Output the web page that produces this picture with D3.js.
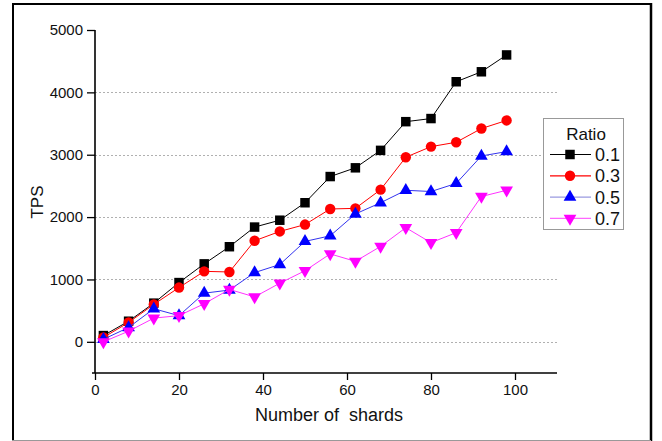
<!DOCTYPE html>
<html>
<head>
<meta charset="utf-8">
<script src="https://cdn.jsdelivr.net/npm/d3@7"></script>
<style>
  body { margin: 0; background: #fff; }
  svg { display: block; font-family: "Liberation Sans", Arial, sans-serif; }
</style>
</head>
<body>
<svg id="chart" width="662" height="441"></svg>
<script>
// shard counts on the x axis
var shards = [2, 8, 14, 20, 26, 32, 38, 44, 50, 56, 62, 68, 74, 80, 86, 92, 98];

// TPS per ratio
var tps_01 = [100, 330, 620, 950, 1250, 1525, 1840, 1950, 2230, 2650, 2790, 3070, 3530, 3580, 4170, 4330, 4600];
var tps_03 = [70, 310, 600, 870, 1130, 1120, 1620, 1770, 1880, 2130, 2140, 2440, 2960, 3130, 3200, 3420, 3550];
var tps_05 = [40, 230, 530, 420, 780, 830, 1110, 1240, 1610, 1700, 2050, 2230, 2430, 2410, 2540, 2980, 3050];
var tps_07 = [0, 170, 380, 420, 610, 840, 720, 940, 1140, 1410, 1290, 1530, 1830, 1590, 1750, 2330, 2430];

var ratios = ["0.1", "0.3", "0.5", "0.7"];
var yTicks = [0, 1000, 2000, 3000, 4000, 5000];
var xTicks = [0, 20, 40, 60, 80, 100];

var series = [
  {name: ratios[0], values: tps_01, color: "#000000", line: "#000000", shape: "square"},
  {name: ratios[1], values: tps_03, color: "#ff0000", line: "#ff0000", shape: "circle"},
  {name: ratios[2], values: tps_05, color: "#0000ff", line: "#3333ee", shape: "up"},
  {name: ratios[3], values: tps_07, color: "#ff00ff", line: "#ff33ff", shape: "down"}
];

var svg = d3.select("#chart");

// outer frame
svg.append("line").attr("x1", 12).attr("y1", 4).attr("x2", 652).attr("y2", 4)
  .attr("stroke", "#000").attr("stroke-width", 2);
svg.append("line").attr("x1", 13).attr("y1", 3).attr("x2", 13).attr("y2", 441)
  .attr("stroke", "#000").attr("stroke-width", 2);
svg.append("line").attr("x1", 651).attr("y1", 3).attr("x2", 651).attr("y2", 441)
  .attr("stroke", "#000").attr("stroke-width", 2.5);
svg.append("line").attr("x1", 12).attr("y1", 440.5).attr("x2", 651).attr("y2", 440.5)
  .attr("stroke", "#999").attr("stroke-width", 1);

var x = d3.scaleLinear().domain([0, 110]).range([95, 557]);
var y = d3.scaleLinear().domain([-500, 5000]).range([373, 30]);

// grid
svg.append("g").selectAll("line")
  .data(yTicks.filter(function(d) { return d < 5000; }))
  .enter().append("line")
  .attr("x1", x(0)).attr("x2", x(110))
  .attr("y1", function(d) { return Math.round(y(d)) + 0.5; })
  .attr("y2", function(d) { return Math.round(y(d)) + 0.5; })
  .attr("stroke", "#b0b0b0").attr("stroke-width", 1)
  .attr("stroke-dasharray", "2,2");

// axes: minor ticks first, then major with labels
var xg = svg.append("g").attr("transform", "translate(0," + y(-500) + ")");
xg.call(d3.axisBottom(x).tickValues(d3.range(0, 111, 10)).tickSize(4).tickFormat(""));
xg.call(d3.axisBottom(x).tickValues(xTicks).tickSize(7).tickFormat(d3.format("d")).tickPadding(4));
xg.selectAll(".domain").attr("d", "M" + (x(0) - 3) + ",0H" + x(110)).attr("stroke-width", 1.6);
xg.selectAll("line").attr("stroke-width", 1.3);
xg.selectAll("text").attr("font-size", 15).attr("fill", "#111").attr("font-family", "Liberation Sans, Arial");

var yg = svg.append("g").attr("transform", "translate(" + x(0) + ",0)");
yg.call(d3.axisLeft(y).tickValues(d3.range(-500, 5001, 500)).tickSize(4).tickFormat(""));
yg.call(d3.axisLeft(y).tickValues(yTicks).tickSize(8).tickFormat(d3.format("d")).tickPadding(4));
yg.selectAll(".domain").attr("d", "M0," + y(-500) + "V" + y(5000)).attr("stroke-width", 1.6);
yg.selectAll("line").attr("stroke-width", 1.3);
yg.selectAll("text").attr("font-size", 15).attr("fill", "#111").attr("font-family", "Liberation Sans, Arial");

// axis titles
svg.append("text").attr("x", 329).attr("y", 421)
  .attr("text-anchor", "middle").attr("font-size", 18).attr("fill", "#111")
  .style("white-space", "pre")
  .text("Number of  shards");
svg.append("text").attr("transform", "translate(43,202) rotate(-90)")
  .attr("text-anchor", "middle").attr("font-size", 17).attr("fill", "#111")
  .text("TPS");

var symbolOf = function(shape) {
  if (shape === "square") return d3.symbol().type(d3.symbolSquare).size(90);
  if (shape === "circle") return d3.symbol().type(d3.symbolCircle).size(85);
  return d3.symbol().type(d3.symbolTriangle).size(70);
};
var markerTransform = function(shape, px, py) {
  if (shape === "down") return "translate(" + px + "," + py + ") rotate(180)";
  return "translate(" + px + "," + py + ")";
};

var line = d3.line()
  .x(function(d, i) { return x(shards[i]); })
  .y(function(d) { return y(d); });

series.forEach(function(s) {
  var g = svg.append("g");
  g.append("path").attr("d", line(s.values))
    .attr("fill", "none").attr("stroke", s.line).attr("stroke-width", 1);
  g.selectAll("path.m").data(s.values).enter().append("path")
    .attr("class", "m")
    .attr("d", symbolOf(s.shape))
    .attr("transform", function(d, i) { return markerTransform(s.shape, x(shards[i]), y(d)); })
    .attr("fill", s.color);
});

// legend
var lg = svg.append("g");
lg.append("rect").attr("x", 543.5).attr("y", 118.5).attr("width", 80).attr("height", 111)
  .attr("fill", "#fff").attr("stroke", "#999").attr("stroke-width", 1);
lg.append("text").attr("x", 586).attr("y", 140).attr("text-anchor", "middle")
  .attr("font-size", 17).attr("fill", "#111").text("Ratio");
var legendLines = ["#000000", "#ff0000", "#9a9ae0", "#ff66ff"];
series.forEach(function(s, i) {
  var cy = 154.5 + i * 21.3;
  lg.append("line").attr("x1", 550).attr("x2", 591).attr("y1", cy).attr("y2", cy)
    .attr("stroke", legendLines[i]).attr("stroke-width", 1.2);
  lg.append("path").attr("d", symbolOf(s.shape))
    .attr("transform", markerTransform(s.shape, 570, cy))
    .attr("fill", s.color);
  lg.append("text").attr("x", 595).attr("y", cy + 6.5)
    .attr("font-size", 18).attr("fill", "#111").text(s.name);
});
</script>
</body>
</html>
